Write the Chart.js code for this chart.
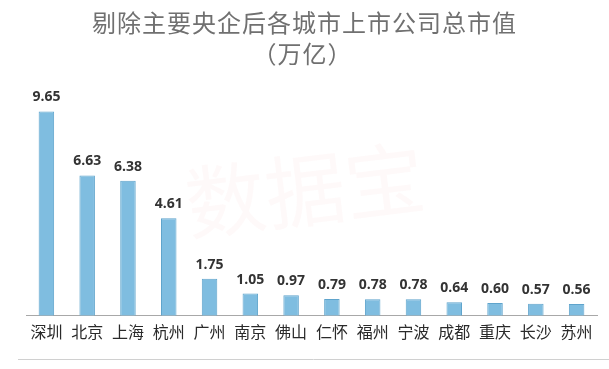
<!DOCTYPE html>
<html>
<head>
<meta charset="utf-8">
<script src="https://cdn.jsdelivr.net/npm/chart.js@4/dist/chart.umd.min.js"></script>
<style>
  html, body { margin: 0; padding: 0; background: #fff; }
  #wrap { width: 609px; height: 369px; }
</style>
</head>
<body>
<div id="wrap"><canvas id="chart" width="609" height="369"></canvas></div>
<script>
// cities and market value (万亿)
const cities = ['深圳', '北京', '上海', '杭州', '广州', '南京', '佛山', '仁怀', '福州', '宁波', '成都', '重庆', '长沙', '苏州'];
const values = [9.65, 6.63, 6.38, 4.61, 1.75, 1.05, 0.97, 0.79, 0.78, 0.78, 0.64, 0.60, 0.57, 0.56];
const titleLines = ['剔除主要央企后各城市上市公司总市值', '（万亿）'];

const cjk = '"Noto Sans CJK SC", "Noto Sans", sans-serif';

// title, watermark, value labels
const decor = {
  id: 'decor',
  beforeDatasetsDraw(chart) {
    const ctx = chart.ctx;
    ctx.save();
    // faint watermark
    ctx.translate(305, 190);
    ctx.rotate(-0.12);
    ctx.font = '80px ' + cjk;
    ctx.fillStyle = 'rgba(235, 170, 170, 0.07)';
    ctx.textAlign = 'center';
    ctx.textBaseline = 'middle';
    ctx.fillText('数据宝', 0, 0);
    ctx.restore();
  },
  afterDatasetsDraw(chart) {
    const ctx = chart.ctx;
    ctx.save();
    ctx.textAlign = 'center';
    ctx.textBaseline = 'alphabetic';
    ctx.fillStyle = '#707070';
    ctx.font = '24px ' + cjk;
    ctx.letterSpacing = '1px';
    ctx.fillText(titleLines[0], chart.width / 2, 32);
    ctx.fillText(titleLines[1], chart.width / 2 - 2, 63);
    ctx.letterSpacing = '0px';

    // value labels above bars
    ctx.fillStyle = '#333';
    ctx.font = 'bold 14px "Open Sans", "DejaVu Sans", sans-serif';
    const meta = chart.getDatasetMeta(0);
    meta.data.forEach((bar, i) => {
      ctx.fillText(values[i].toFixed(2), bar.x, bar.y - 10);
    });

    // thin table line under the chart
    ctx.strokeStyle = '#d0d0d0';
    ctx.lineWidth = 1;
    ctx.beginPath();
    ctx.moveTo(18, 359.5);
    ctx.lineTo(609, 359.5);
    ctx.stroke();
    ctx.restore();
  }
};

new Chart(document.getElementById('chart'), {
  type: 'bar',
  data: {
    labels: cities,
    datasets: [{
      data: values,
      backgroundColor: '#7fbde0',
      borderColor: '#5fa4cc',
      borderWidth: 1,
      barPercentage: 0.38,
      categoryPercentage: 1
    }]
  },
  options: {
    responsive: false,
    animation: false,
    layout: { padding: { top: 104, left: 26, right: 12, bottom: 20 } },
    plugins: {
      legend: { display: false },
      tooltip: { enabled: false },
      title: { display: false }
    },
    scales: {
      x: {
        grid: { display: false, drawTicks: false },
        border: { display: true, color: '#a8a8a8', width: 1 },
        ticks: {
          color: '#2a2a2a',
          padding: 7,
          font: { size: 16, family: cjk },
          maxRotation: 0,
          autoSkip: false
        }
      },
      y: {
        display: false,
        min: 0,
        max: 10
      }
    }
  },
  plugins: [decor]
});
</script>
</body>
</html>
